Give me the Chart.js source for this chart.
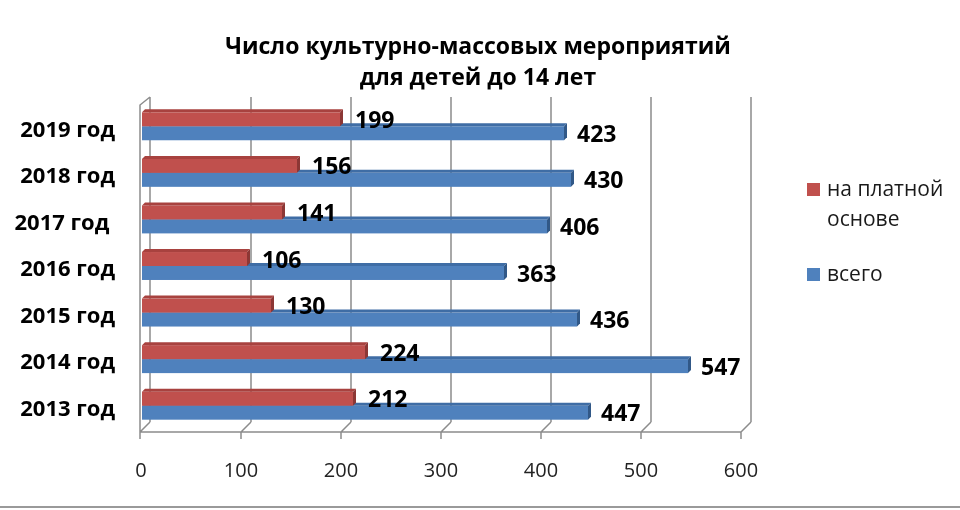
<!DOCTYPE html>
<html>
<head>
<meta charset="utf-8">
<script src="https://cdn.jsdelivr.net/npm/chart.js@4"></script>
<style>
  html, body { margin: 0; padding: 0; background: #fff; }
</style>
</head>
<body>
<canvas id="chart" width="960" height="510"></canvas>
<script>
const categories = ["2019 год", "2018 год", "2017 год ", "2016 год", "2015 год", "2014 год", "2013 год"];
const paid = [199, 156, 141, 106, 130, 224, 212];
const total = [423, 430, 406, 363, 436, 547, 447];
const xTickValues = [0, 100, 200, 300, 400, 500, 600];
const titleLines = ["Число культурно-массовых мероприятий", "для детей до 14 лет"];
const legendLines = [["на платной", "основе"], ["всего"]];

const FONT = "'Open Sans', 'DejaVu Sans', sans-serif";
const DEPTH = 3;

// colours for each series: front, top, end cap
const shades = [
  { front: "#C0504D", top: "#A8423F", side: "#8C3735" },
  { front: "#4F81BD", top: "#3F6DA5", side: "#315887" }
];

function poly(ctx, pts, fill) {
  ctx.beginPath();
  ctx.moveTo(pts[0][0], pts[0][1]);
  for (let i = 1; i < pts.length; i++) ctx.lineTo(pts[i][0], pts[i][1]);
  ctx.closePath();
  ctx.fillStyle = fill;
  ctx.fill();
}

const frame3d = {
  id: "frame3d",
  beforeDatasetsDraw(chart) {
    const ctx = chart.ctx;
    const xs = chart.scales.x;
    const area = chart.chartArea;
    const floorY = area.bottom + 3;
    const dx = 10, dy = -10;
    const topBack = area.top - 6;
    const x0 = xs.getPixelForValue(0) - 1;
    const xEnd = xs.getPixelForValue(600);

    ctx.save();
    ctx.strokeStyle = "#8c8c8c";
    ctx.lineWidth = 1.5;
    ctx.beginPath();
    xTickValues.forEach(v => {
      const xf = v === 0 ? x0 : xs.getPixelForValue(v);
      // back wall line
      ctx.moveTo(xf + dx, floorY + dy);
      ctx.lineTo(xf + dx, topBack);
      // floor diagonal
      ctx.moveTo(xf, floorY);
      ctx.lineTo(xf + dx, floorY + dy);
      // tick mark
      ctx.moveTo(xf, floorY);
      ctx.lineTo(xf, floorY + 7);
    });
    // front floor edge
    ctx.moveTo(x0, floorY);
    ctx.lineTo(xEnd, floorY);
    // left wall
    ctx.moveTo(x0, floorY);
    ctx.lineTo(x0, topBack + 8);
    ctx.lineTo(x0 + dx, topBack);
    ctx.stroke();

    // title
    ctx.fillStyle = "#000";
    ctx.font = "bold 23px " + FONT;
    ctx.textAlign = "center";
    ctx.textBaseline = "middle";
    ctx.fillText(titleLines[0], 478, 47);
    ctx.fillText(titleLines[1], 478, 78);

    // legend
    const legendY = [190, 275];
    chart.data.datasets.forEach((ds, i) => {
      ctx.fillStyle = shades[i].front;
      ctx.fillRect(807, legendY[i] - 7, 13, 13);
      ctx.fillStyle = "#1a1a1a";
      ctx.font = "21px " + FONT;
      ctx.textAlign = "left";
      legendLines[i].forEach((t, k) => ctx.fillText(t, 827, legendY[i] + k * 30));
    });

    // bottom border of the picture
    ctx.strokeStyle = "#9a9a9a";
    ctx.lineWidth = 2;
    ctx.beginPath();
    ctx.moveTo(0, 507);
    ctx.lineTo(960, 507);
    ctx.stroke();
    ctx.restore();
  },
  afterDatasetsDraw(chart) {
    const ctx = chart.ctx;
    ctx.save();
    // blue first so the red bar covers its top face
    [1, 0].forEach(i => {
      const meta = chart.getDatasetMeta(i);
      const sh = shades[i];
      meta.data.forEach(el => {
        const top = el.y - el.height / 2;
        const bottom = el.y + el.height / 2;
        const b = el.base + 1, e = el.x;
        ctx.fillStyle = sh.front;
        ctx.fillRect(b, top, e - b, el.height);
        poly(ctx, [[b, top], [b + DEPTH, top - DEPTH], [e + DEPTH, top - DEPTH], [e, top]], sh.top);
        poly(ctx, [[e, top], [e + DEPTH, top - DEPTH], [e + DEPTH, bottom - DEPTH], [e, bottom]], sh.side);
      });
    });
    // value labels
    ctx.fillStyle = "#000";
    ctx.font = "bold 23px " + FONT;
    ctx.textAlign = "left";
    ctx.textBaseline = "middle";
    [0, 1].forEach(i => {
      const meta = chart.getDatasetMeta(i);
      const gap = i === 0 ? 12 : 10;
      meta.data.forEach((el, j) => {
        ctx.fillText(String(chart.data.datasets[i].data[j]), el.x + DEPTH + gap, el.y + 2);
      });
    });
    ctx.restore();
  }
};

new Chart(document.getElementById("chart"), {
  type: "bar",
  data: {
    labels: categories,
    datasets: [
      {
        label: "на платной основе",
        data: paid,
        backgroundColor: "rgba(0,0,0,0)",
        categoryPercentage: 0.6,
        barPercentage: 1.0
      },
      {
        label: "всего",
        data: total,
        backgroundColor: "rgba(0,0,0,0)",
        categoryPercentage: 0.6,
        barPercentage: 1.0
      }
    ]
  },
  options: {
    indexAxis: "y",
    responsive: false,
    animation: false,
    layout: { padding: { top: 103, right: 219, bottom: 0, left: 0 } },
    scales: {
      x: {
        min: 0,
        max: 600,
        afterBuildTicks: s => { s.ticks = xTickValues.map(v => ({ value: v })); },
        afterFit: s => { s.height = 81; },
        grid: { display: false, drawTicks: false },
        border: { display: false },
        ticks: { font: { family: FONT, size: 20 }, color: "#222", padding: 30, maxRotation: 0 }
      },
      y: {
        afterFit: s => { s.width = 141; },
        grid: { display: false, drawTicks: false },
        border: { display: false },
        ticks: { font: { family: FONT, size: 22, weight: "bold" }, color: "#000", padding: 26, labelOffset: 4 }
      }
    },
    plugins: {
      legend: { display: false },
      tooltip: { enabled: false }
    }
  },
  plugins: [frame3d]
});
</script>
</body>
</html>
